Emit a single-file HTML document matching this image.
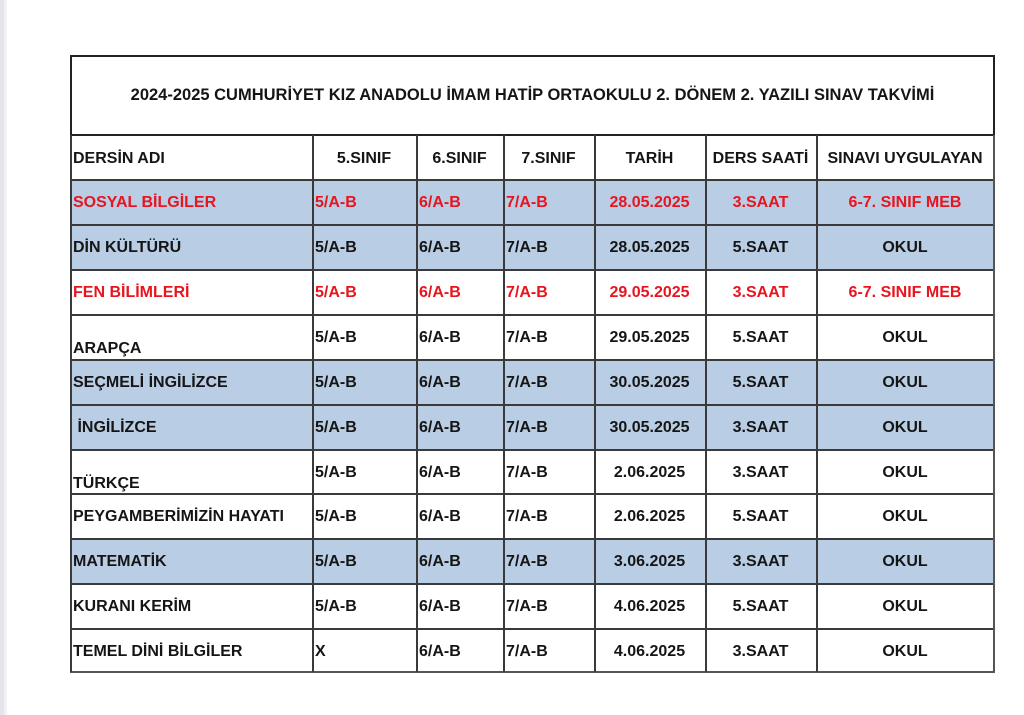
<!DOCTYPE html>
<html><head><meta charset="utf-8">
<style>
html,body{margin:0;padding:0;}
body{width:1024px;height:715px;background:#fff;position:relative;overflow:hidden;font-family:"Liberation Sans",Arial,sans-serif;font-weight:bold;color:#151515;}
.strip{position:absolute;left:0;top:0;width:4px;height:715px;background:#e4e4ec;}
.strip2{position:absolute;left:4px;top:0;width:3px;height:715px;background:#f1f1f5;}
.bg{position:absolute;left:70px;width:924px;background:#b9cde5;}
.h{position:absolute;left:70px;width:925px;height:1.5px;background:#3a3a3a;}
.v{position:absolute;top:135px;height:537px;width:1.5px;background:#3a3a3a;}
.c{position:absolute;display:flex;align-items:center;font-size:16px;white-space:pre;height:45px;box-sizing:border-box;padding-top:3px;}
.l{justify-content:flex-start;padding-left:3px;}
.m{justify-content:center;}
.b{align-items:flex-end;padding-top:0;}
.b span{padding-bottom:1px;}
.r{color:#e8141e;}
.title{position:absolute;left:70px;top:55px;width:921px;height:77px;border:2px solid #222;display:flex;align-items:center;justify-content:center;font-size:16.5px;white-space:nowrap;}
</style></head><body>
<div class="strip"></div><div class="strip2"></div>

<div class="title">2024-2025 CUMHURİYET KIZ ANADOLU İMAM HATİP ORTAOKULU 2. DÖNEM 2. YAZILI SINAV TAKVİMİ</div>

<!-- blue backgrounds -->
<div class="bg" style="top:179px;height:90px"></div>
<div class="bg" style="top:359px;height:90px"></div>
<div class="bg" style="top:538px;height:45px"></div>

<!-- horizontal lines -->
<div class="h" style="top:179px"></div>
<div class="h" style="top:224px"></div>
<div class="h" style="top:269px"></div>
<div class="h" style="top:314px"></div>
<div class="h" style="top:359px"></div>
<div class="h" style="top:404px"></div>
<div class="h" style="top:449px"></div>
<div class="h" style="top:493px"></div>
<div class="h" style="top:538px"></div>
<div class="h" style="top:583px"></div>
<div class="h" style="top:628px"></div>
<div class="h" style="top:671px;background:#555;height:2px"></div>

<!-- vertical lines -->
<div class="v" style="left:70px"></div>
<div class="v" style="left:312px"></div>
<div class="v" style="left:416px"></div>
<div class="v" style="left:503px"></div>
<div class="v" style="left:594px"></div>
<div class="v" style="left:705px"></div>
<div class="v" style="left:816px"></div>
<div class="v" style="left:993px;width:2px;background:#555"></div>

<!-- header -->
<div class="c l" style="left:70px;top:135px;width:239px">DERSİN ADI</div>
<div class="c m" style="left:312px;top:135px;width:104px">5.SINIF</div>
<div class="c m" style="left:416px;top:135px;width:87px">6.SINIF</div>
<div class="c m" style="left:503px;top:135px;width:91px">7.SINIF</div>
<div class="c m" style="left:594px;top:135px;width:111px">TARİH</div>
<div class="c m" style="left:705px;top:135px;width:111px">DERS SAATİ</div>
<div class="c m" style="left:816px;top:135px;width:178px">SINAVI UYGULAYAN</div>

<!-- row 1 -->
<div class="c l r" style="left:70px;top:179px;width:239px">SOSYAL BİLGİLER</div>
<div class="c l r" style="left:312px;top:179px;width:100px">5/A-B</div>
<div class="c l r" style="left:416px;top:179px;width:84px">6/A-B</div>
<div class="c l r" style="left:503px;top:179px;width:88px">7/A-B</div>
<div class="c m r" style="left:594px;top:179px;width:111px">28.05.2025</div>
<div class="c m r" style="left:705px;top:179px;width:111px">3.SAAT</div>
<div class="c m r" style="left:816px;top:179px;width:178px">6-7. SINIF MEB</div>

<!-- row 2 -->
<div class="c l" style="left:70px;top:224px;width:239px">DİN KÜLTÜRÜ</div>
<div class="c l" style="left:312px;top:224px;width:100px">5/A-B</div>
<div class="c l" style="left:416px;top:224px;width:84px">6/A-B</div>
<div class="c l" style="left:503px;top:224px;width:88px">7/A-B</div>
<div class="c m" style="left:594px;top:224px;width:111px">28.05.2025</div>
<div class="c m" style="left:705px;top:224px;width:111px">5.SAAT</div>
<div class="c m" style="left:816px;top:224px;width:178px">OKUL</div>

<!-- row 3 -->
<div class="c l r" style="left:70px;top:269px;width:239px">FEN BİLİMLERİ</div>
<div class="c l r" style="left:312px;top:269px;width:100px">5/A-B</div>
<div class="c l r" style="left:416px;top:269px;width:84px">6/A-B</div>
<div class="c l r" style="left:503px;top:269px;width:88px">7/A-B</div>
<div class="c m r" style="left:594px;top:269px;width:111px">29.05.2025</div>
<div class="c m r" style="left:705px;top:269px;width:111px">3.SAAT</div>
<div class="c m r" style="left:816px;top:269px;width:178px">6-7. SINIF MEB</div>

<!-- row 4 -->
<div class="c l b" style="left:70px;top:314px;width:239px"><span>ARAPÇA</span></div>
<div class="c l" style="left:312px;top:314px;width:100px">5/A-B</div>
<div class="c l" style="left:416px;top:314px;width:84px">6/A-B</div>
<div class="c l" style="left:503px;top:314px;width:88px">7/A-B</div>
<div class="c m" style="left:594px;top:314px;width:111px">29.05.2025</div>
<div class="c m" style="left:705px;top:314px;width:111px">5.SAAT</div>
<div class="c m" style="left:816px;top:314px;width:178px">OKUL</div>

<!-- row 5 -->
<div class="c l" style="left:70px;top:359px;width:239px">SEÇMELİ İNGİLİZCE</div>
<div class="c l" style="left:312px;top:359px;width:100px">5/A-B</div>
<div class="c l" style="left:416px;top:359px;width:84px">6/A-B</div>
<div class="c l" style="left:503px;top:359px;width:88px">7/A-B</div>
<div class="c m" style="left:594px;top:359px;width:111px">30.05.2025</div>
<div class="c m" style="left:705px;top:359px;width:111px">5.SAAT</div>
<div class="c m" style="left:816px;top:359px;width:178px">OKUL</div>

<!-- row 6 -->
<div class="c l" style="left:70px;top:404px;width:239px"> İNGİLİZCE</div>
<div class="c l" style="left:312px;top:404px;width:100px">5/A-B</div>
<div class="c l" style="left:416px;top:404px;width:84px">6/A-B</div>
<div class="c l" style="left:503px;top:404px;width:88px">7/A-B</div>
<div class="c m" style="left:594px;top:404px;width:111px">30.05.2025</div>
<div class="c m" style="left:705px;top:404px;width:111px">3.SAAT</div>
<div class="c m" style="left:816px;top:404px;width:178px">OKUL</div>

<!-- row 7 -->
<div class="c l b" style="left:70px;top:449px;width:239px"><span>TÜRKÇE</span></div>
<div class="c l" style="left:312px;top:449px;width:100px">5/A-B</div>
<div class="c l" style="left:416px;top:449px;width:84px">6/A-B</div>
<div class="c l" style="left:503px;top:449px;width:88px">7/A-B</div>
<div class="c m" style="left:594px;top:449px;width:111px">2.06.2025</div>
<div class="c m" style="left:705px;top:449px;width:111px">3.SAAT</div>
<div class="c m" style="left:816px;top:449px;width:178px">OKUL</div>

<!-- row 8 -->
<div class="c l" style="left:70px;top:493px;width:239px">PEYGAMBERİMİZİN HAYATI</div>
<div class="c l" style="left:312px;top:493px;width:100px">5/A-B</div>
<div class="c l" style="left:416px;top:493px;width:84px">6/A-B</div>
<div class="c l" style="left:503px;top:493px;width:88px">7/A-B</div>
<div class="c m" style="left:594px;top:493px;width:111px">2.06.2025</div>
<div class="c m" style="left:705px;top:493px;width:111px">5.SAAT</div>
<div class="c m" style="left:816px;top:493px;width:178px">OKUL</div>

<!-- row 9 -->
<div class="c l" style="left:70px;top:538px;width:239px">MATEMATİK</div>
<div class="c l" style="left:312px;top:538px;width:100px">5/A-B</div>
<div class="c l" style="left:416px;top:538px;width:84px">6/A-B</div>
<div class="c l" style="left:503px;top:538px;width:88px">7/A-B</div>
<div class="c m" style="left:594px;top:538px;width:111px">3.06.2025</div>
<div class="c m" style="left:705px;top:538px;width:111px">3.SAAT</div>
<div class="c m" style="left:816px;top:538px;width:178px">OKUL</div>

<!-- row 10 -->
<div class="c l" style="left:70px;top:583px;width:239px">KURANI KERİM</div>
<div class="c l" style="left:312px;top:583px;width:100px">5/A-B</div>
<div class="c l" style="left:416px;top:583px;width:84px">6/A-B</div>
<div class="c l" style="left:503px;top:583px;width:88px">7/A-B</div>
<div class="c m" style="left:594px;top:583px;width:111px">4.06.2025</div>
<div class="c m" style="left:705px;top:583px;width:111px">5.SAAT</div>
<div class="c m" style="left:816px;top:583px;width:178px">OKUL</div>

<!-- row 11 -->
<div class="c l" style="left:70px;top:628px;width:239px;height:44px">TEMEL DİNİ BİLGİLER</div>
<div class="c l" style="left:312px;top:628px;width:100px;height:44px">X</div>
<div class="c l" style="left:416px;top:628px;width:84px;height:44px">6/A-B</div>
<div class="c l" style="left:503px;top:628px;width:88px;height:44px">7/A-B</div>
<div class="c m" style="left:594px;top:628px;width:111px;height:44px">4.06.2025</div>
<div class="c m" style="left:705px;top:628px;width:111px;height:44px">3.SAAT</div>
<div class="c m" style="left:816px;top:628px;width:178px;height:44px">OKUL</div>

</body></html>
